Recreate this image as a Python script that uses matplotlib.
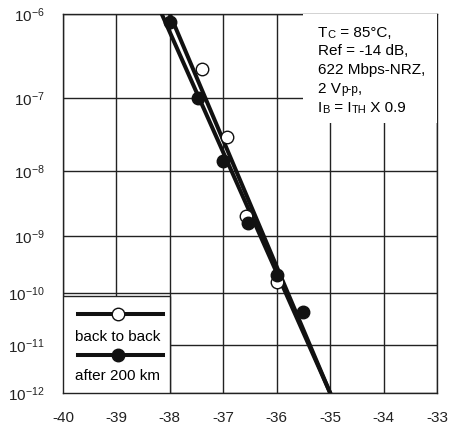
import numpy as np
import matplotlib
matplotlib.use("Agg")
import matplotlib.pyplot as plt
from matplotlib.patches import Rectangle
from matplotlib.lines import Line2D
from matplotlib.ticker import FixedLocator, NullLocator

plt.rcParams['font.family'] = ['Liberation Sans', 'DejaVu Sans']
plt.rcParams['mathtext.fontset'] = 'custom'
plt.rcParams['mathtext.rm'] = 'Liberation Sans'

# received power (dBm) and BER
btb_x = [-37.40, -36.93, -36.57, -35.99]
btb_ber = [2.3e-7, 3.1e-8, 2.1e-9, 1.6e-10]
km200_x = [-38.00, -37.47, -37.01, -36.54, -35.99, -35.51]
km200_ber = [8.3e-7, 1.0e-7, 1.4e-8, 1.6e-9, 2.1e-10, 4.5e-11]

# fitted lines (end points at 1e-6 and 1e-12)
fit_btb_x = [-38.15, -35.00]
fit_km200_x = [-38.00, -35.00]
fit_ber = [1e-6, 1e-12]

x_ticks = [-40, -39, -38, -37, -36, -35, -34, -33]
y_exp = [6, 7, 8, 9, 10, 11, 12]

notes = [
    [("T", 11), ("C", 8), (" = 85°C,", 11)],
    [("Ref = -14 dB,", 11)],
    [("622 Mbps-NRZ,", 11)],
    [("2 V", 11), ("p-p", 8.5), (",", 11)],
    [("I", 11), ("B", 8), (" = I", 11), ("TH", 8), (" X 0.9", 11)],
]


def ber_fwd(y):
    y = np.clip(y, 1e-300, 0.999999)
    return -np.log10(-np.log10(y))


def ber_inv(f):
    return 10 ** (-(10 ** (-f)))


fig = plt.figure(figsize=(4.63, 4.30), dpi=100)
ax = fig.add_axes([0.136, 0.086, 0.808, 0.881])
ax.set_yscale('function', functions=(ber_fwd, ber_inv))
ax.set_xlim(-40, -33)
ax.set_ylim(1e-12, 1e-6)

ax.xaxis.set_major_locator(FixedLocator(x_ticks))
ax.set_xticklabels([str(v) for v in x_ticks])
ax.yaxis.set_major_locator(FixedLocator([10.0 ** (-e) for e in y_exp]))
ax.yaxis.set_minor_locator(NullLocator())
ax.set_yticklabels([r'$\mathregular{10^{-%d}}$' % e for e in y_exp])
ax.tick_params(length=0, labelsize=11, colors='#222222')
ax.tick_params(axis='x', pad=13)
ax.tick_params(axis='y', pad=13)
ax.grid(True, color='#222222', linewidth=1.0)
ax.set_axisbelow(True)
for s in ax.spines.values():
    s.set_linewidth(1.0)
    s.set_color('#222222')

ax.plot(fit_btb_x, fit_ber, color='#111111', linewidth=2.9, zorder=3)
ax.plot(fit_km200_x, fit_ber, color='#111111', linewidth=2.9, zorder=3)
ax.plot(btb_x, btb_ber, 'o', markersize=9, markerfacecolor='white',
        markeredgecolor='#111111', markeredgewidth=1.0, zorder=4)
ax.plot(km200_x, km200_ber, 'o', markersize=9, color='#111111', zorder=4)

# legend box in the lower left corner
ax.add_patch(Rectangle((0, 0), 0.286, 0.256, transform=ax.transAxes,
                       facecolor='white', edgecolor='#222222', linewidth=1.0, zorder=6))
ax.add_line(Line2D([0.04, 0.267], [0.208, 0.208], transform=ax.transAxes,
                   color='#111111', linewidth=2.9, zorder=7))
ax.add_line(Line2D([0.147], [0.208], transform=ax.transAxes, marker='o', markersize=9,
                   markerfacecolor='white', markeredgecolor='#111111', zorder=8))
ax.text(0.147, 0.148, 'back to back', transform=ax.transAxes, ha='center', va='center',
        fontsize=11, zorder=8)
ax.add_line(Line2D([0.04, 0.267], [0.100, 0.100], transform=ax.transAxes,
                   color='#111111', linewidth=2.9, zorder=7))
ax.add_line(Line2D([0.147], [0.100], transform=ax.transAxes, marker='o', markersize=9,
                   color='#111111', zorder=8))
ax.text(0.147, 0.045, 'after 200 km', transform=ax.transAxes, ha='center', va='center',
        fontsize=11, zorder=8)

# conditions box in the upper right corner
ax.add_patch(Rectangle((0.642, 0.712), 0.358, 0.288, transform=ax.transAxes,
                       facecolor='white', edgecolor='none', zorder=6))
y0 = 0.941
for row in notes:
    prev = None
    for txt, size in row:
        if prev is None:
            prev = ax.text(0.682, y0, txt, transform=ax.transAxes, fontsize=size,
                           ha='left', va='baseline', zorder=8)
        else:
            prev = ax.annotate(txt, xy=(1, 0), xycoords=prev, fontsize=size,
                               ha='left', va='bottom', zorder=8)
    y0 -= 0.0495

fig.savefig('out.png', dpi=100)
